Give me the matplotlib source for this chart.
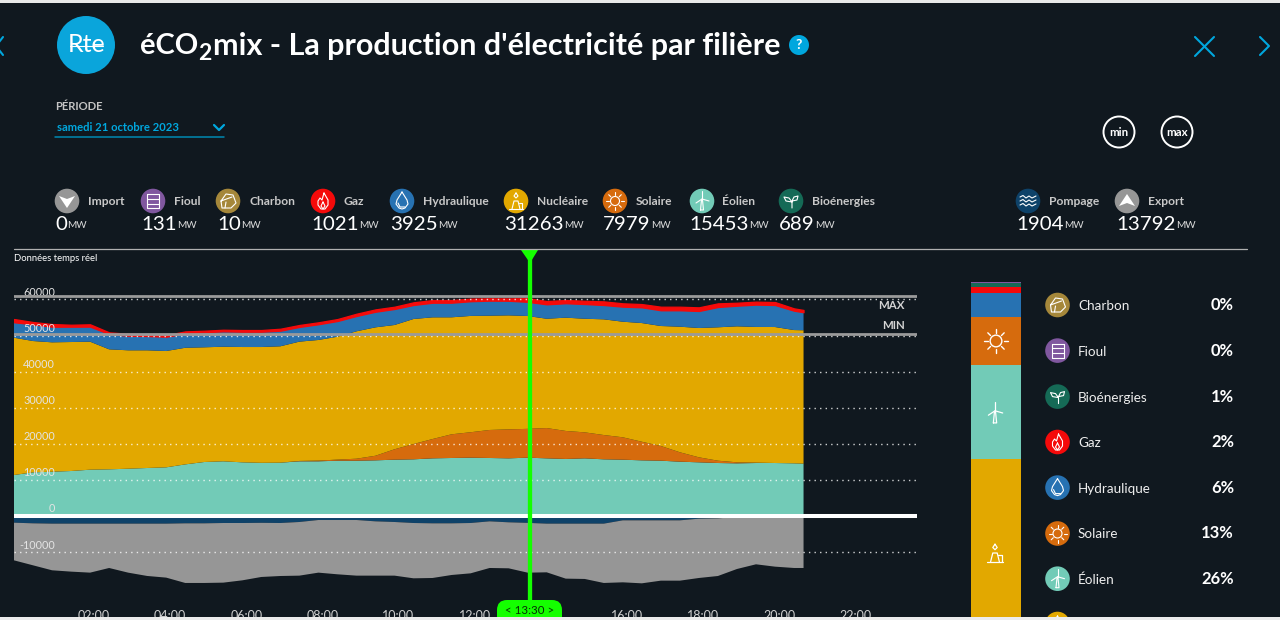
import matplotlib
matplotlib.use("Agg")
import matplotlib.pyplot as plt
from matplotlib.patches import Circle, Rectangle, Polygon, FancyBboxPatch
from matplotlib.transforms import ScaledTranslation

# ---------- data (MW) ----------
hours = [0, .5, 1, 1.5, 2, 2.5, 3, 3.5, 4, 4.5, 5, 5.5, 6, 6.5, 7, 7.5, 8, 8.5, 9, 9.5, 10,
         10.5, 11, 11.5, 12, 12.5, 13, 13.5, 14, 14.5, 15, 15.5, 16, 16.5, 17, 17.5, 18, 18.5,
         19, 19.5, 20, 20.5, 20.75]
eolien = [11360, 12100, 12270, 12465, 12830, 12930, 13100, 13300, 13480, 14300, 14960, 15150,
          14870, 14730, 14770, 15150, 15150, 15320, 15320, 15420, 15600, 15700, 15970, 16070,
          16160, 16070, 15970, 16160, 15970, 15800, 15970, 15700, 15600, 15420, 15320, 15050,
          14870, 14680, 14590, 14680, 14680, 14590, 14500]
solaire = [0, 0, 0, 0, 0, 0, 0, 0, 0, 0, 0, 0, 0, 0, 0, 100, 200, 300, 550, 1270, 2880, 4240,
           5350, 6560, 7040, 7760, 8030, 7979, 8390, 7760, 7200, 6730, 6200, 5150, 4070, 2600,
           1385, 640, 280, 100, 0, 0, 0]
nucleaire = [38030, 36370, 35840, 35730, 35460, 33240, 32800, 32600, 32220, 32300, 31770, 31740,
             31940, 32080, 32240, 33050, 33410, 34040, 35290, 35570, 34430, 34630, 33710, 32410,
             32220, 31660, 31580, 31263, 30280, 31380, 31470, 32050, 32020, 32880, 33240, 34790,
             35820, 36950, 37670, 37590, 37670, 36920, 36950]
hydraulique = [4270, 4630, 4320, 4240, 4160, 4240, 4040, 3960, 3960, 3990, 4160, 4270, 4240, 4240,
               4320, 4070, 4350, 4350, 4240, 4320, 4430, 3880, 4040, 4040, 4070, 4160, 4040, 3925,
               3990, 3990, 4070, 3960, 4160, 4350, 4350, 4540, 4710, 5620, 5710, 6180, 6090, 5350,
               4990]
gaz = [910, 640, 750, 550, 660, 470, 550, 470, 470, 550, 440, 440, 470, 470, 550, 550, 550, 550,
       640, 660, 640, 750, 750, 750, 720, 660, 660, 1021, 910, 910, 910, 1020, 940, 910, 1000,
       1000, 1020, 1020, 830, 830, 830, 660, 640]
pompage = [1850, 2030, 2120, 2120, 2120, 2120, 2120, 2120, 2120, 2030, 2030, 1940, 1940, 1890,
           1940, 1660, 1110, 1110, 1110, 1480, 1660, 1940, 2030, 2030, 1940, 1480, 1750, 1904,
           2120, 2120, 2120, 2120, 1200, 1200, 1200, 1200, 740, 650, 280, 0, 0, 0, 0]
export = [10430, 11630, 12920, 13290, 13570, 12280, 13570, 14490, 14950, 16520, 16520, 16520,
          15880, 15000, 14680, 14860, 14580, 15040, 15410, 15040, 14860, 15320, 15140, 14310,
          13940, 12920, 12740, 13792, 13480, 15230, 15320, 16430, 17170, 17450, 16710, 16710,
          16430, 15970, 14400, 13380, 14030, 14400, 14400]

y_ticks = [-10000, 0, 10000, 20000, 30000, 40000, 50000, 60000]
x_ticks = [2, 4, 6, 8, 10, 12, 14, 16, 18, 20, 22]
# the 14:00 label is hidden behind the green cursor pill in the reference
x_tick_labels = ["02:00", "04:00", "06:00", "08:00", "10:00", "12:00", "", "16:00", "18:00", "20:00", "22:00"]
max_line = 60940
min_line = 50500
cursor_hour = 13.5

top_names = ["Import", "Fioul", "Charbon", "Gaz", "Hydraulique", "Nucléaire", "Solaire", "Éolien",
             "Bioénergies", "Pompage", "Export"]
top_values = [0, 131, 10, 1021, 3925, 31263, 7979, 15453, 689, 1904, 13792]
share_names = ["Charbon", "Fioul", "Bioénergies", "Gaz", "Hydraulique", "Solaire", "Éolien"]
share_pct = [0, 0, 1, 2, 6, 13, 26]

FONT = "Lato"
BG = "#10181f"
C = dict(Import="#969696", Fioul="#80579f", Charbon="#a5873a", Gaz="#f50a0a", Hydraulique="#2772b2",
         Solaire="#d66b0d", Bioénergies="#156a56", Pompage="#0e4269", Export="#969696")
C["Nucléaire"] = "#e2a800"
C["Éolien"] = "#72cbb7"
CYAN = "#00a7de"
GREEN = "#14ff00"

plt.rcParams["font.family"] = [FONT, "DejaVu Sans"]
W, H = 1280, 620
fig = plt.figure(figsize=(W / 100, H / 100), dpi=100, facecolor=BG)


def axes_px(x0, ytop, x1, ybot, **kw):
    return fig.add_axes([x0 / W, 1 - ybot / H, (x1 - x0) / W, (ybot - ytop) / H], **kw)


# ---------- main chart ----------
PX_PER_MW = 36.1 / 10000
PX_PER_H = 38.05
ZERO = 516
ax = axes_px(14, 250, 917, 600, facecolor="none")
ax.set_xlim(0, (917 - 14) / PX_PER_H)
ax.set_ylim((ZERO - 600) / PX_PER_MW, (ZERO - 250) / PX_PER_MW)
polys = ax.stackplot(hours, eolien, solaire, nucleaire, hydraulique, gaz,
                     colors=[C["Éolien"], C["Solaire"], C["Nucléaire"], C["Hydraulique"], C["Gaz"]],
                     linewidth=0)
polys[4].set_edgecolor(C["Gaz"])
polys[4].set_linewidth(0.9)
ax.stackplot(hours, [-v for v in pompage], [-v for v in export],
             colors=[C["Pompage"], C["Export"]], linewidth=0)
ax.axhline(0, color="white", lw=2.9, zorder=3)
ax.axhline(max_line, color="#9a9a9a", lw=2.0, zorder=3)
ax.axhline(min_line, color="#9a9a9a", lw=2.0, zorder=3)
shift = ScaledTranslation(2.4 * 0.72 / 72, 0, fig.dpi_scale_trans)
cursor = ax.axvline(cursor_hour, color=GREEN, lw=3.1, zorder=6)
cursor.set_transform(cursor.get_transform() + shift)
for s in ax.spines.values():
    s.set_visible(False)
ax.set_axisbelow(False)
ax.set_yticks([v for v in y_ticks])
ax.set_yticklabels([str(v) for v in y_ticks], fontsize=7.8, color="#e4e4e4", va="center", ha="right")
ax.yaxis.grid(True, color="white", lw=1.0, ls=(0, (1, 3)), alpha=0.8)
ax.tick_params(axis="y", length=0, pad=-29.5)
ax.set_xticks(x_ticks)
ax.set_xticklabels(x_tick_labels, fontsize=9, color="#cfcfcf")
ax.tick_params(axis="x", length=0, pad=7.2)
up = ScaledTranslation(0, 7 * 0.72 / 72, fig.dpi_scale_trans)
for lab in ax.get_yticklabels():
    lab.set_transform(lab.get_transform() + up)
right = ScaledTranslation(4 * 0.72 / 72, 0, fig.dpi_scale_trans)
for lab in ax.get_xticklabels():
    lab.set_transform(lab.get_transform() + right)

# ---------- right stacked column ----------
bar_order = ["Nucléaire", "Éolien", "Solaire", "Hydraulique", "Gaz", "Bioénergies", "Fioul", "Charbon"]
bar_values = [31263, 15453, 7979, 3925, 1021, 689, 131, 10]
bar_total = sum(bar_values)
bx = axes_px(971, 282, 1021, 617, facecolor="none")
bx.set_xlim(0, 1)
bx.set_ylim(bar_total - 335 / 0.00605, bar_total)
bx.axis("off")
base = 0
for name, val in zip(bar_order, bar_values):
    bx.bar(0.5, val, width=1, bottom=base, color=C[name], linewidth=0)
    base += val

# ---------- pixel overlay ----------
ov = fig.add_axes([0, 0, 1, 1], facecolor="none", zorder=10)
ov.set_xlim(0, W)
ov.set_ylim(H, 0)
ov.axis("off")


def T(x, y, s, size, color="white", weight="normal", ha="left", va="center", **kw):
    kw.setdefault("zorder", 5)
    return ov.text(x, y + 1, s, fontsize=size * 0.72, color=color, fontweight=weight, ha=ha, va=va, **kw)


def L(pts, lw=0.9, color="white", **kw):
    kw.setdefault("zorder", 4)
    ov.plot([p[0] for p in pts], [p[1] for p in pts], color=color, lw=lw,
            solid_capstyle="round", solid_joinstyle="round", **kw)


def glyph(name, cx, cy, k=1.0, lw=0.8):
    P = lambda pts: [(cx + a * k, cy + b * k) for a, b in pts]
    if name == "Import":
        ov.add_patch(Polygon(P([(-8, -5), (0, -2), (8, -5), (0, 7)]), fc="white", lw=0, zorder=4))
    elif name == "Export":
        ov.add_patch(Polygon(P([(-8, 5), (0, 2), (8, 5), (0, -7)]), fc="white", lw=0, zorder=4))
    elif name == "Fioul":
        L(P([(-6, -7), (6, -7), (6, 7), (-6, 7), (-6, -7)]), lw)
        L(P([(-6, -2.5), (6, -2.5)]), lw)
        L(P([(-6, 2.5), (6, 2.5)]), lw)
    elif name == "Charbon":
        L(P([(-7, 0), (-2, -7), (5, -6), (8, 2), (3, 7), (-6, 7), (-7, 0), (4, -4)]), lw)
        L(P([(-3, 7), (-2, 1)]), lw)
    elif name == "Gaz":
        L(P([(1, -8), (5, -1), (5, 4), (2, 8), (-2, 8), (-5, 4), (-5, 0), (-3, -3), (-1, -1),
             (1, -8)]), lw)
        L(P([(0, 1), (2, 5), (0, 8), (-2, 5), (0, 1)]), lw)
    elif name == "Hydraulique":
        L(P([(0, -9), (5, -1), (6, 3), (3, 7), (0, 8), (-3, 7), (-6, 3), (-5, -1), (0, -9)]), lw)
        L(P([(-4, 2), (-2, 6), (3, 6)]), lw)
    elif name == "Nucléaire":
        L(P([(-4, 8), (-2, 0), (2, 0), (4, 8)]), lw)
        L(P([(-7, 8), (7, 8)]), lw)
        L(P([(3, 2), (6, 2), (6, 8)]), lw)
        L(P([(0, -8), (2, -5), (0, -3), (-2, -5), (0, -8)]), lw)
    elif name == "Solaire":
        ov.add_patch(Circle((cx, cy), 4.5 * k, fc="none", ec="white", lw=lw, zorder=4))
        for a, b in [(1, 0), (.7, .7), (0, 1), (-.7, .7), (-1, 0), (-.7, -.7), (0, -1), (.7, -.7)]:
            L(P([(a * 6, b * 6), (a * 9, b * 9)]), lw)
    elif name == "Éolien":
        L(P([(-1.5, 9), (-.5, -1), (.5, -1), (1.5, 9), (-1.5, 9)]), lw)
        L(P([(0, -2), (0, -10)]), lw)
        L(P([(0, -2), (7, 0)]), lw)
        L(P([(0, -2), (-6, 2)]), lw)
    elif name == "Bioénergies":
        L(P([(1, 7), (1, 0), (3, -4), (7, -5), (6, -1), (1, 0)]), lw)
        L(P([(1, 1), (-2, -3), (-7, -4), (-5, 0), (1, 1)]), lw)
    elif name == "Pompage":
        for dy in (-4, 0, 4):
            L(P([(-8, dy), (-5, dy - 1.5), (-2, dy + 1), (1, dy - 1), (4, dy + 1), (8, dy - 1)]), lw)


def icon(name, cx, cy, r=12.3):
    ov.add_patch(Circle((cx, cy), r, fc=C[name], ec="none", zorder=2))
    glyph(name, cx, cy)


# frame strips
ov.add_patch(Rectangle((0, 0), W, 3, fc="#e9e9e9", lw=0))
L([(14, 248.5), (1247, 248.5)], 0.9, "#b0b0b0")

# header
ov.add_patch(Circle((86, 45), 29, fc="#0aa5db", ec="none"))
T(87, 44, "Rte", 25, ha="center")
L([(70, 46), (103, 46)], 0.8)
fig.canvas.draw()
rend = fig.canvas.get_renderer()
T(140, 45, "éCO", 29, weight="bold")
T(198.5, 53, "2", 23, weight="bold")
T(213, 45, "mix - La production d'électricité par filière", 30.5, weight="bold")
ov.add_patch(Circle((799, 45), 10, fc=CYAN, ec="none"))
T(799, 44, "?", 14, weight="bold", ha="center")
L([(1195, 37), (1214, 56)], 1.5, CYAN)
L([(1195, 56), (1214, 37)], 1.5, CYAN)
L([(1260, 37), (1269, 46), (1260, 55)], 1.5, CYAN)
L([(3, 37), (-4, 46), (3, 55)], 1.5, CYAN)

T(55, 106, "PÉRIODE", 11.2, color="#c4c4c4", weight="bold")
T(57, 126.5, "samedi 21 octobre 2023", 11.3, color=CYAN, weight="bold")
L([(214, 125), (219, 130), (224, 125)], 1.6, CYAN)
L([(55, 136.5), (224, 136.5)], 1.1, "#0089b2")

for cx, s in [(1119, "min"), (1177, "max")]:
    ov.add_patch(Circle((cx, 132), 15.5, fc="none", ec="white", lw=1.4))
    T(cx, 131, s, 11.5, weight="bold", ha="center")

# top legend
icon_x = [67, 153, 228, 323, 402, 516, 615, 702, 791, 1028, 1127]
label_x = [88, 174, 249, 344, 423, 537, 636, 722, 812, 1049, 1148]
value_x = [55, 141, 217, 311, 390, 504, 603, 689, 779, 1016, 1116]
for name, val, ix, lx, vx in zip(top_names, top_values, icon_x, label_x, value_x):
    icon(name, ix, 201)
    T(lx, 200.5, name, 12, color="#c9c9c9", weight="bold")
    t = T(vx, 223, str(val), 20.5)
    bb = t.get_window_extent(rend)
    T(bb.x1 + 0.5, 225, "MW", 10, color="#dcdcdc")

# chart annotations
T(14, 257.5, "Données temps réel", 9.5)
T(905, 304.5, "MAX", 11.5, color="#d4d4d4", weight="bold", ha="right")
T(905, 324.5, "MIN", 11.5, color="#d4d4d4", weight="bold", ha="right")
ov.add_patch(Polygon([(521, 250), (538, 250), (530, 263)], fc=GREEN, lw=0))
ov.add_patch(FancyBboxPatch((497, 600), 65, 30, boxstyle="round,pad=0,rounding_size=10",
                            mutation_scale=1, fc=GREEN, lw=0, zorder=3))
T(529.5, 610, "< 13:30 >", 11.5, color="#062b06", ha="center")

# icons on the stacked column
glyph("Solaire", 996, 341, 1.3, 1.0)
glyph("Éolien", 995, 413, 1.1, 0.9)
glyph("Nucléaire", 995, 553, 1.1, 0.9)

# right legend
share_y = [305, 350.6, 396.6, 442, 487.6, 533.5, 578.7]
for name, pct, y in zip(share_names, share_pct, share_y):
    icon(name, 1057.5, y)
    T(1078, y, name, 13.5, color="#eeeeee")
    T(1234, y - 1, f"{pct}%", 16.5, weight="bold", ha="right")
icon("Nucléaire", 1057.5, 624)

ov.add_patch(Rectangle((0, 617), W, 3, fc="#ececec", lw=0, zorder=20))

fig.savefig("out.png", dpi=100, facecolor=BG)
